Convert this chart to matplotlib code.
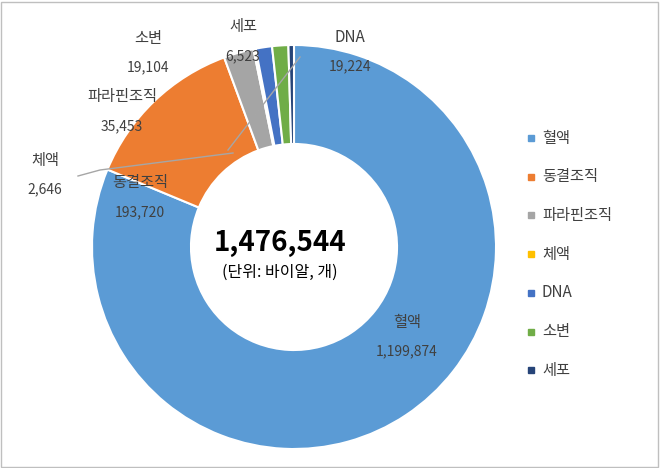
import matplotlib
matplotlib.use("Agg")
import matplotlib.pyplot as plt
from matplotlib.patches import Rectangle

plt.rcParams["font.family"] = ["Noto Sans CJK KR", "Noto Sans CJK JP", "Noto Sans CJK SC", "DejaVu Sans"]

categories = ["혈액", "동결조직", "파라핀조직", "체액", "DNA", "소변", "세포"]
values = [1199874, 193720, 35453, 2646, 19224, 19104, 6523]
value_labels = ["1,199,874", "193,720", "35,453", "2,646", "19,224", "19,104", "6,523"]
colors = ["#5B9BD5", "#ED7D31", "#A5A5A5", "#FFC000", "#4472C4", "#70AD47", "#264478"]
total_label = "1,476,544"
unit_label = "(단위: 바이알, 개)"

W, H = 660, 468
cx, cy, R = 294, 247, 202
fig = plt.figure(figsize=(6.6, 4.68), dpi=100)
ax = fig.add_axes([0, 0, 1, 1])
ax.pie(values, colors=colors, startangle=90, counterclock=False, radius=1,
       wedgeprops=dict(width=0.49, edgecolor="white", linewidth=1.5))
ax.set_aspect("auto")
ax.set_xlim(-cx / R, (W - cx) / R)
ax.set_ylim(-(H - cy) / R, cy / R)
ax.axis("off")

def px(x, y):
    return ((x - cx) / R, (cy - y) / R)

ax.text(*px(280, 243), total_label, ha="center", va="center", fontsize=20, fontweight="bold")
ax.text(*px(280, 272), unit_label, ha="center", va="center", fontsize=11.5)

label_pos = {
    "혈액": (407, 322), "동결조직": (140, 183), "파라핀조직": (122, 97),
    "체액": (45, 160), "DNA": (350, 37), "소변": (148, 38), "세포": (243, 27),
}
for cat, vl in zip(categories, value_labels):
    x, y = label_pos[cat]
    ax.text(*px(x, y), cat, ha="center", va="center", fontsize=11, color="#404040")
    ax.text(*px(x, y + 29), vl, ha="center", va="center", fontsize=10, color="#404040")

# leader lines
ax.plot(*zip(px(78, 176), px(100, 170), px(233, 153)), color="#A6A6A6", lw=1)
ax.plot(*zip(px(300, 57), px(228, 150)), color="#A6A6A6", lw=1)

# legend
for i, (cat, c) in enumerate(zip(categories, colors)):
    y = 138 + i * 38.7
    x0, y0 = px(528, y + 3)
    ax.add_patch(Rectangle((x0, y0), 6 / R, 6 / R, color=c))
    ax.text(*px(542, y), cat, ha="left", va="center", fontsize=11, color="#404040")

fig.patches.append(Rectangle((0.002, 0.003), 0.995, 0.993, transform=fig.transFigure,
                             fill=False, edgecolor="#BFBFBF", lw=1))
fig.savefig("out.png", dpi=100)
